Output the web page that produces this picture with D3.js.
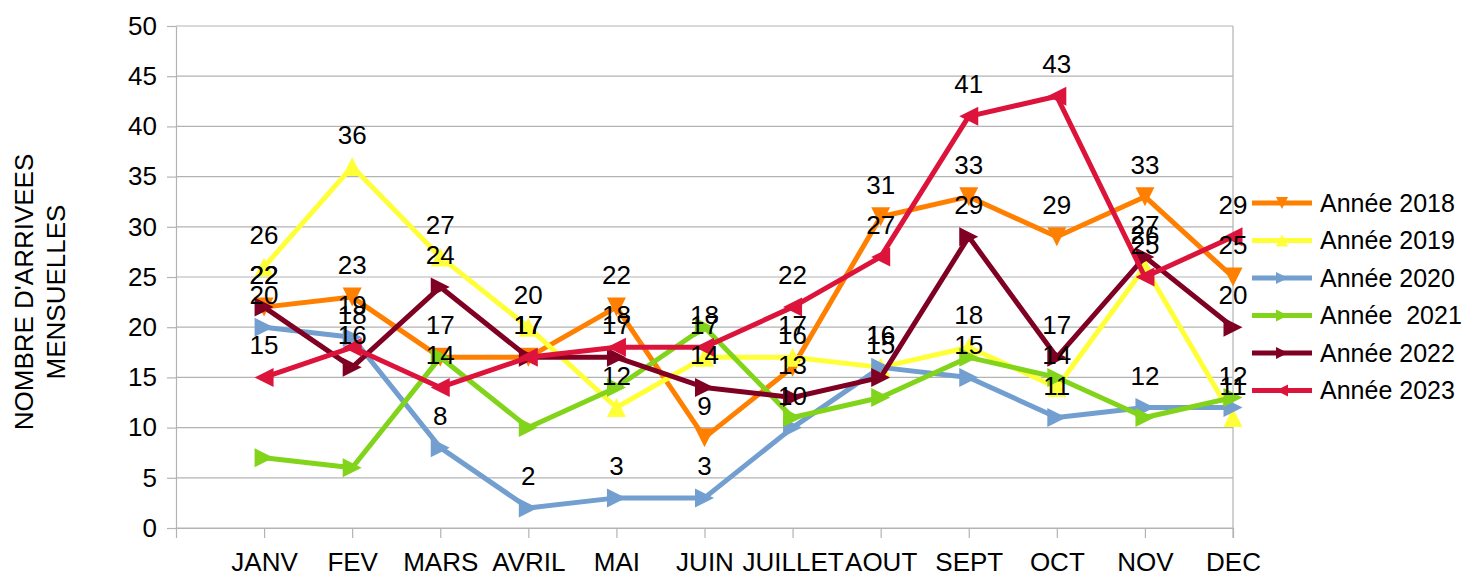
<!DOCTYPE html>
<html>
<head>
<meta charset="utf-8">
<script src="https://cdn.jsdelivr.net/npm/d3@7"></script>
<style>
  body { margin: 0; background: #fff; }
  svg { display: block; font-family: "Liberation Sans", Arial, sans-serif; }
</style>
</head>
<body>
<svg width="1469" height="572"></svg>
<script>
// Months (first slot of the axis is empty, as in the original chart)
const months = ['JANV', 'FEV', 'MARS', 'AVRIL', 'MAI', 'JUIN', 'JUILLET', 'AOUT', 'SEPT', 'OCT', 'NOV', 'DEC'];

// Monthly arrivals per year
const y2018 = [22, 23, 17, 17, 22, 9, 16, 31, 33, 29, 33, 25];
const y2019 = [26, 36, 27, 20, 12, 17, 17, 16, 18, 14, 26, 11];
const y2020 = [20, 19, 8, 2, 3, 3, 10, 16, 15, 11, 12, 12];
const y2021 = [7, 6, 17, 10, 14, 20, 11, 13, 17, 15, 11, 13];
const y2022 = [22, 16, 24, 17, 17, 14, 13, 15, 29, 17, 27, 20];
const y2023 = [15, 18, 14, 17, 18, 18, 22, 27, 41, 43, 25, 29];

const seriesNames = ['Année 2018', 'Année 2019', 'Année 2020', 'Année  2021', 'Année 2022', 'Année 2023'];
const yTicks = [0, 5, 10, 15, 20, 25, 30, 35, 40, 45, 50];

const svg = d3.select('svg');

const series = [
  { name: seriesNames[0], values: y2018, color: '#ff8000', symbol: 'down',  labels: true },
  { name: seriesNames[1], values: y2019, color: '#ffff38', symbol: 'up',    labels: true },
  { name: seriesNames[2], values: y2020, color: '#729fcf', symbol: 'right', labels: true },
  { name: seriesNames[3], values: y2021, color: '#81d41a', symbol: 'right', labels: false },
  { name: seriesNames[4], values: y2022, color: '#7f0022', symbol: 'right', labels: true },
  { name: seriesNames[5], values: y2023, color: '#dc143c', symbol: 'left',  labels: true }
];

// Scales
const x = d3.scalePoint()
    .domain([''].concat(months))
    .range([176, 1233]);

const y = d3.scaleLinear()
    .domain([0, 50])
    .range([528, 26]);

const grid = '#b3b3b3';

// Horizontal grid lines
svg.append('g')
  .selectAll('line').data(yTicks)
  .join('line')
    .attr('x1', 176).attr('x2', 1233)
    .attr('y1', d => y(d)).attr('y2', d => y(d))
    .attr('stroke', grid).attr('stroke-width', 1.2);

// Right border of the plot
svg.append('line')
    .attr('x1', 1233).attr('x2', 1233)
    .attr('y1', 26).attr('y2', 538)
    .attr('stroke', grid).attr('stroke-width', 1.2);

// Y axis
const yAxis = svg.append('g')
    .attr('transform', 'translate(176,0)')
    .call(d3.axisLeft(y).tickValues(yTicks).tickSizeInner(9).tickSizeOuter(0).tickPadding(10));
yAxis.select('.domain').attr('stroke', grid).attr('stroke-width', 1.2);
yAxis.selectAll('.tick line').attr('stroke', grid).attr('stroke-width', 1.2);
yAxis.selectAll('.tick text')
    .attr('font-size', 26).attr('fill', '#000')
    .attr('font-family', '"Liberation Sans", Arial, sans-serif');

// X axis
const xAxis = svg.append('g')
    .attr('transform', 'translate(0,528)')
    .call(d3.axisBottom(x).tickSizeInner(10).tickSizeOuter(0).tickPadding(15));
xAxis.select('.domain').attr('stroke', grid).attr('stroke-width', 1.2);
xAxis.selectAll('.tick line').attr('stroke', grid).attr('stroke-width', 1.2);
xAxis.selectAll('.tick text')
    .attr('font-size', 26).attr('fill', '#000')
    .attr('font-family', '"Liberation Sans", Arial, sans-serif');

// Y axis title (two lines)
const title = svg.append('text')
    .attr('transform', 'translate(40,292) rotate(-90)')
    .attr('text-anchor', 'middle')
    .attr('font-size', 26);
title.append('tspan').attr('x', 0).attr('y', -16).attr('dy', '0.35em').text("NOMBRE D'ARRIVEES");
title.append('tspan').attr('x', 0).attr('y', 16).attr('dy', '0.35em').text('MENSUELLES');

// Triangle markers
function marker(kind, s) {
  const h = s / 2;
  if (kind === 'down')  return `M${-h},${-h}L${h},${-h}L0,${h}Z`;
  if (kind === 'up')    return `M${-h},${h}L${h},${h}L0,${-h}Z`;
  if (kind === 'right') return `M${-h},${-h}L${h},0L${-h},${h}Z`;
  return `M${h},${-h}L${-h},0L${h},${h}Z`;
}

const line = d3.line()
    .x((d, i) => x(months[i]))
    .y(d => y(d));

// Lines and markers
const plots = svg.append('g');
series.forEach(s => {
  const g = plots.append('g');
  g.append('path')
      .attr('d', line(s.values))
      .attr('fill', 'none')
      .attr('stroke', s.color)
      .attr('stroke-width', 5)
      .attr('stroke-linejoin', 'round');
  g.selectAll('path.m').data(s.values)
    .join('path')
      .attr('class', 'm')
      .attr('transform', (d, i) => `translate(${x(months[i])},${y(d)})`)
      .attr('d', marker(s.symbol, 19))
      .attr('fill', s.color);
});

// Data labels
const labels = svg.append('g')
    .attr('font-size', 26)
    .attr('text-anchor', 'middle')
    .attr('fill', '#000');
series.filter(s => s.labels).forEach(s => {
  labels.append('g').selectAll('text').data(s.values)
    .join('text')
      .attr('x', (d, i) => x(months[i]))
      .attr('y', d => y(d) - 23)
      .text(d => d);
});

// Legend
const legend = svg.append('g');
series.forEach((s, i) => {
  const ly = 203 + i * 37.5;
  const row = legend.append('g');
  row.append('line')
      .attr('x1', 1252).attr('x2', 1312)
      .attr('y1', ly).attr('y2', ly)
      .attr('stroke', s.color).attr('stroke-width', 5);
  row.append('path')
      .attr('transform', `translate(1282,${ly})`)
      .attr('d', marker(s.symbol, 12))
      .attr('fill', s.color);
  row.append('text')
      .attr('x', 1320).attr('y', ly)
      .attr('dy', '0.35em')
      .attr('font-size', 25)
      .style('white-space', 'pre')
      .text(s.name);
});
</script>
</body>
</html>
